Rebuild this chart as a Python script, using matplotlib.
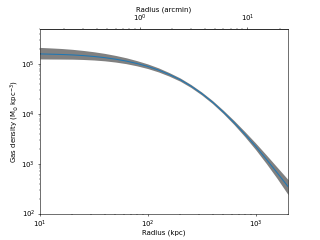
import numpy as np
import matplotlib
matplotlib.use("Agg")
import matplotlib.pyplot as plt

# gas density profile (kpc, Msun kpc^-3)
radius_kpc = [10, 12.6, 15.8, 20, 25.1, 31.6, 39.8, 50.1, 63.1, 79.4, 100, 126,
              158, 200, 251, 316, 398, 501, 631, 794, 1000, 1259, 1585, 2000]
density = [1.57e5, 1.552e5, 1.531e5, 1.500e5, 1.455e5, 1.398e5, 1.324e5, 1.234e5,
           1.130e5, 1.010e5, 8.81e4, 7.46e4, 6.10e4, 4.79e4, 3.58e4, 2.54e4,
           1.71e4, 1.088e4, 6.65e3, 3.91e3, 2.23e3, 1.226e3, 658, 348]
density_hi = [2.12e5, 2.07e5, 2.018e5, 1.941e5, 1.845e5, 1.736e5, 1.610e5, 1.467e5,
              1.315e5, 1.151e5, 9.89e4, 8.24e4, 6.64e4, 5.17e4, 3.84e4, 2.715e4,
              1.833e4, 1.174e4, 7.29e3, 4.39e3, 2.59e3, 1.491e3, 848, 480]
density_lo = [1.247e5, 1.242e5, 1.239e5, 1.233e5, 1.216e5, 1.187e5, 1.143e5, 1.080e5,
              1.002e5, 9.06e4, 8.00e4, 6.83e4, 5.64e4, 4.46e4, 3.35e4, 2.375e4,
              1.595e4, 1.009e4, 6.06e3, 3.48e3, 1.915e3, 1.002e3, 505, 241]

KPC_PER_ARCMIN = 84.0

fig, ax = plt.subplots(figsize=(6.4, 4.8))

ax.fill_between(radius_kpc, density_lo, density_hi, color="gray", linewidth=0)
ax.plot(radius_kpc, density, color="C0")

ax.set_xscale("log")
ax.set_yscale("log")
ax.set_xlim(10, 2000)
ax.set_ylim(100, 5e5)
ax.set_xlabel("Radius (kpc)", labelpad=0)
ax.set_ylabel(r"Gas density (M$_{\odot}$ kpc$^{-3}$)", labelpad=0)

# top axis in arcmin
top = ax.secondary_xaxis("top", functions=(lambda r: r / KPC_PER_ARCMIN,
                                           lambda a: a * KPC_PER_ARCMIN))
top.set_xticks([1, 10])
top.set_xlabel("Radius (arcmin)", labelpad=2)

fig.savefig("out.png", dpi=50)
